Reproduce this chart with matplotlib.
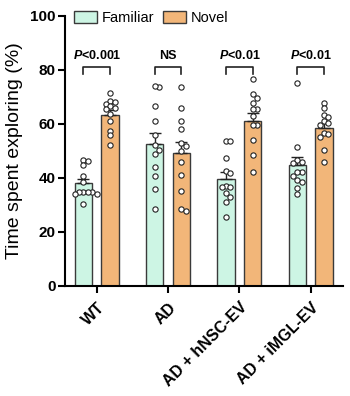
import numpy as np
import matplotlib
matplotlib.use("Agg")
import matplotlib.pyplot as plt
from matplotlib.patches import Patch

plt.rcParams['font.family'] = ['Liberation Sans', 'DejaVu Sans']
plt.rcParams['mathtext.fontset'] = 'custom'
plt.rcParams['mathtext.bfit'] = 'Liberation Sans:italic:bold'
plt.rcParams['mathtext.rm'] = 'Liberation Sans:bold'

groups = ['WT', 'AD', 'AD + hNSC-EV', 'AD + iMGL-EV']
series = ['Familiar', 'Novel']
colors = ['#cdf5e4', '#f2b679']

familiar_mean = [38.0, 52.5, 39.7, 44.7]
familiar_sem = [1.7, 4.3, 2.5, 3.2]
novel_mean = [63.3, 49.1, 61.2, 58.6]
novel_sem = [1.7, 4.2, 2.8, 1.9]

familiar_pts = [
    [46.7, 46.4, 44.6, 40.7, 38.6, 34.9, 34.9, 34.9, 34.9, 33.9, 33.9, 30.4],
    [73.5, 74.1, 66.7, 61.0, 56.0, 52.0, 50.4, 48.9, 44.0, 40.7, 36.0, 28.5],
    [53.7, 53.7, 47.5, 42.7, 41.7, 37.0, 36.5, 36.5, 34.5, 33.0, 31.2, 25.5],
    [75.0, 51.6, 46.7, 46.0, 45.4, 42.0, 42.0, 40.7, 39.3, 38.3, 36.2, 34.0],
]
novel_pts = [
    [71.4, 68.3, 68.0, 67.5, 66.5, 66.0, 65.5, 63.5, 61.0, 57.5, 55.8, 52.0],
    [73.5, 65.8, 61.2, 58.0, 52.8, 51.9, 50.1, 45.7, 41.0, 35.3, 28.4, 27.7],
    [76.5, 71.0, 69.5, 67.9, 65.4, 65.4, 63.0, 59.6, 59.6, 54.0, 48.5, 42.0],
    [67.9, 65.8, 63.3, 62.5, 61.2, 60.5, 59.6, 56.5, 56.3, 55.3, 50.4, 46.0],
]
sig_labels = ['<0.001', 'NS', '<0.01', '<0.01']

fig = plt.figure(figsize=(3.5, 3.96), dpi=100)
ax = fig.add_axes([0.186, 0.278, 0.794, 0.682])

x = np.arange(len(groups))
width = 0.243
offset = 0.187

# pixel scale for swarm layout
px_x = 71.3
px_y = 2.7
diam = 4.4

def swarm(cx, vals):
    placed = []
    order = np.argsort(vals)[::-1]
    res = np.zeros(len(vals))
    step = diam / px_x
    for i in order:
        v = vals[i]
        cands = [0]
        for k in range(1, 6):
            cands += [k * step, -k * step]
        for c in cands:
            ok = True
            for (px, pv) in placed:
                dx = (c - px) * px_x
                dy = (v - pv) * px_y
                if dx * dx + dy * dy < diam * diam * 0.98:
                    ok = False
                    break
            if ok:
                placed.append((c, v))
                res[i] = c
                break
    return cx + res

for means, sems, pts, sign, col in [(familiar_mean, familiar_sem, familiar_pts, -1, colors[0]),
                                     (novel_mean, novel_sem, novel_pts, 1, colors[1])]:
    xpos = x + sign * offset
    ax.bar(xpos, means, width=width, color=col, edgecolor='#3a3a3a', linewidth=1.0, zorder=2)
    ax.errorbar(xpos, means, yerr=[np.zeros(len(means)), sems], fmt='none',
                ecolor='#222222', elinewidth=1.0, capsize=4, capthick=1.0, zorder=3)
    for xi, p in zip(xpos, pts):
        xs = swarm(xi, np.array(p))
        ax.plot(xs, p, 'o', ms=3.8, mfc='white', mec='#222222', mew=0.8, zorder=4, linestyle='none')

# significance brackets
for i, lab in enumerate(sig_labels):
    x0, x1 = x[i] - offset, x[i] + offset
    ax.plot([x0, x0, x1, x1], [78.3, 81.2, 81.2, 78.3], color='#222222', lw=1.2, zorder=3)
    if lab == 'NS':
        txt = 'NS'
    else:
        txt = r'$\mathbfit{P}$' + lab
    ax.text(x[i], 83.0, txt, ha='center', va='bottom', fontsize=9, fontweight='bold')

ax.set_xlim(-0.445, 3.453)
ax.set_ylim(0, 100)
ax.set_yticks([0, 20, 40, 60, 80, 100])
ax.set_xticks(x)
ax.set_xticklabels(groups, rotation=45, ha='right', rotation_mode='anchor', fontweight='bold', fontsize=11.5)
for lbl in ax.get_yticklabels():
    lbl.set_fontweight('bold')
    lbl.set_fontsize(11)
ax.set_ylabel('Time spent exploring (%)', fontsize=14, labelpad=5)

for s in ['top', 'right']:
    ax.spines[s].set_visible(False)
for s in ['left', 'bottom']:
    ax.spines[s].set_linewidth(1.5)
ax.tick_params(axis='both', width=1.5, length=5, direction='out')
ax.tick_params(axis='x', pad=5)
ax.tick_params(axis='y', pad=2)

handles = [Patch(facecolor=colors[0], edgecolor='#3a3a3a', label=series[0]),
           Patch(facecolor=colors[1], edgecolor='#3a3a3a', label=series[1])]
ax.legend(handles=handles, loc='upper left', ncol=2, frameon=False, fontsize=10.5,
          bbox_to_anchor=(0.0, 1.05), handlelength=1.6, handleheight=0.8,
          handletextpad=0.3, columnspacing=0.6, borderaxespad=0.2)

fig.savefig('out.png', dpi=100)
